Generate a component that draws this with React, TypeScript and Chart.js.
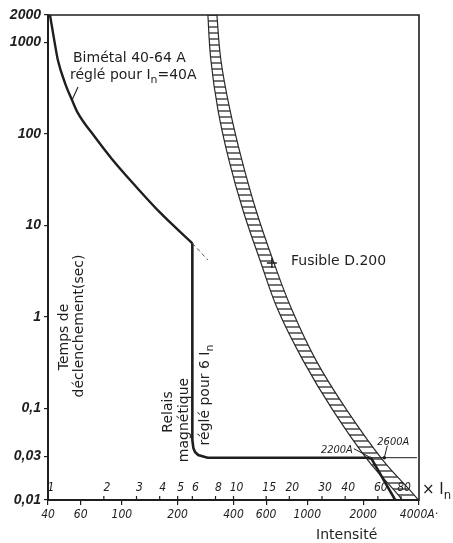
import React, { useEffect, useRef } from 'react';
import { Chart, registerables } from 'chart.js';

Chart.register(...registerables);

// ---------- data ----------
const RATED_CURRENT_A = 40;
const AMP_TICKS = [40, 60, 100, 200, 400, 600, 1000, 2000, 4000];
const AMP_LABELS = ['40', '60', '100', '200', '400', '600', '1000', '2000', '4000A·'];
const IN_MULTIPLES = [1, 2, 3, 4, 5, 6, 8, 10, 15, 20, 30, 40, 60, 80];
const TIME_TICKS = [2000, 1000, 100, 10, 1, 0.1, 0.03, 0.01];
const TIME_LABELS = ['2000', '1000', '100', '10', '1', '0,1', '0,03', '0,01'];

// bimetal thermal curve (A, s)
const BIMETAL_I = [41, 43.5, 45.2, 49.4, 53.9, 57.9, 71.6, 88.4, 110.8, 160, 240];
const BIMETAL_T = [2000, 986, 645, 361, 235, 170, 92.8, 53.5, 31.5, 14.0, 6.4];
// dashed continuation of the bimetal curve
const BIMETAL_EXT_I = [240, 291];
const BIMETAL_EXT_T = [6.4, 4.2];
// magnetic relay set at 6 In
const RELAY_I = [240, 240, 243, 248, 258, 290, 2200];
const RELAY_T = [6.4, 0.045, 0.037, 0.0335, 0.031, 0.029, 0.029];
// part where the fuse takes over
const FUSE_CUT_I = [2200, 3150];
const FUSE_CUT_T = [0.029, 0.0082];
const REF_LINE_I = [2200, 3900];
const REF_LINE_T = [0.029, 0.029];
// fuse D.200 band
const FUSE_T = [2268, 645, 183, 51.9, 14.7, 4.18, 1.19, 0.336, 0.0954, 0.0271, 0.0101, 0.00287];
const FUSE_MIN_I = [290, 302, 330, 378, 450, 556, 695, 948, 1375, 2124, 3240, 5065];
const FUSE_MAX_I = [324, 342, 383, 444, 529, 653, 827, 1114, 1636, 2558, 3952, 6256];
const FUSE_MARK_I = [644];
const FUSE_MARK_T = [3.9];
const POINT_2200_I = [2200];
const POINT_2600_I = [2600];
const POINT_T = [0.029];

const INK = '#1e1e1e';
const TXT_FONT = '"DejaVu Sans", "Noto Sans", sans-serif';
const NUM_FONT = '"Liberation Sans Narrow", "DejaVu Sans Condensed", "Liberation Sans", sans-serif';

const pts = (xs: number[], ys: number[]) => xs.map((x, i) => ({ x, y: ys[i] }));

function drawRich(ctx: CanvasRenderingContext2D, parts: { t: string; sub?: boolean }[], x: number, y: number, size: number, align: 'left' | 'center' = 'left') {
  const widths = parts.map((p) => {
    ctx.font = `${p.sub ? size * 0.78 : size}px ${TXT_FONT}`;
    return ctx.measureText(p.t).width;
  });
  const total = widths.reduce((a, b) => a + b, 0);
  let cx = align === 'center' ? x - total / 2 : x;
  ctx.textAlign = 'left';
  ctx.textBaseline = 'alphabetic';
  parts.forEach((p, i) => {
    ctx.font = `${p.sub ? size * 0.78 : size}px ${TXT_FONT}`;
    ctx.fillText(p.t, cx, y + (p.sub ? size * 0.3 : 0));
    cx += widths[i];
  });
}

export default function App() {
  const ref = useRef<HTMLCanvasElement>(null);

  useEffect(() => {
    const canvas = ref.current!;
    const pc = document.createElement('canvas');
    pc.width = 8;
    pc.height = 6;
    const pctx = pc.getContext('2d')!;
    pctx.strokeStyle = '#2a2a2a';
    pctx.lineWidth = 1.3;
    pctx.beginPath();
    pctx.moveTo(0, 3);
    pctx.lineTo(8, 3);
    pctx.stroke();
    const pattern = canvas.getContext('2d')!.createPattern(pc, 'repeat')!;

    const fusePolygon = [...pts(FUSE_MIN_I, FUSE_T), ...pts(FUSE_MAX_I, FUSE_T).reverse()];

    const annotate = {
      id: 'annotate',
      afterDraw(chart: any) {
        const ctx: CanvasRenderingContext2D = chart.ctx;
        const xs = chart.scales.x;
        const ys = chart.scales.y;
        const ca = chart.chartArea;
        ctx.save();
        ctx.strokeStyle = INK;
        ctx.fillStyle = INK;
        // frame top & right
        ctx.lineWidth = 1.6;
        ctx.beginPath();
        ctx.moveTo(ca.left, ca.top);
        ctx.lineTo(ca.right, ca.top);
        ctx.lineTo(ca.right, ca.bottom + 1);
        ctx.stroke();

        // multiples of In
        ctx.lineWidth = 1.2;
        ctx.font = `italic 12px ${NUM_FONT}`;
        ctx.textAlign = 'center';
        ctx.textBaseline = 'middle';
        IN_MULTIPLES.forEach((k) => {
          const px = xs.getPixelForValue(k * RATED_CURRENT_A);
          ctx.beginPath();
          ctx.moveTo(px, ca.bottom);
          ctx.lineTo(px, ca.bottom - 4);
          ctx.stroke();
          ctx.fillText(String(k), px + 3, ca.bottom - 12);
        });
        drawRich(ctx, [{ t: '× I' }, { t: 'n', sub: true }], ca.right + 3, ca.bottom - 6, 15);

        // axis titles
        ctx.font = `14px ${TXT_FONT}`;
        ctx.textAlign = 'center';
        ctx.textBaseline = 'alphabetic';
        ctx.fillText('Intensité', ca.left + (ca.right - ca.left) * 0.805, ca.bottom + 39);

        const rot = (text: string | { t: string; sub?: boolean }[], cx: number, cy: number, size: number) => {
          ctx.save();
          ctx.translate(cx, cy);
          ctx.rotate(-Math.PI / 2);
          if (typeof text === 'string') {
            ctx.font = `${size}px ${TXT_FONT}`;
            ctx.textAlign = 'center';
            ctx.textBaseline = 'middle';
            ctx.fillText(text, 0, 0);
          } else {
            drawRich(ctx, text, 0, size * 0.35, size, 'center');
          }
          ctx.restore();
        };
        rot('Temps de', ca.left + 16, ca.top + 322, 14);
        rot('déclenchement(sec)', ca.left + 31, ca.top + 311, 14);
        rot('Relais', ca.left + 120, ca.top + 397, 14);
        rot('magnétique', ca.left + 136, ca.top + 405, 14);
        rot([{ t: 'réglé pour 6 I' }, { t: 'n', sub: true }], ca.left + 156, ca.top + 380, 14);

        // bimetal label
        ctx.font = `14px ${TXT_FONT}`;
        ctx.textAlign = 'left';
        ctx.fillText('Bimétal 40-64 A', ca.left + 25, ca.top + 47);
        drawRich(ctx, [{ t: 'réglé pour I' }, { t: 'n', sub: true }, { t: '=40A' }], ca.left + 22, ca.top + 64, 14);
        const bx = xs.getPixelForValue(BIMETAL_I[4]);
        const by = ys.getPixelForValue(BIMETAL_T[4]);
        ctx.lineWidth = 1.1;
        ctx.beginPath();
        ctx.moveTo(bx, by);
        ctx.lineTo(bx + 6, by - 13);
        ctx.stroke();

        // fuse label + mark
        ctx.font = `14px ${TXT_FONT}`;
        ctx.fillText('Fusible D.200', ca.left + 243, ca.top + 250);
        const fx = xs.getPixelForValue(FUSE_MARK_I[0]);
        const fy = ys.getPixelForValue(FUSE_MARK_T[0]);
        ctx.lineWidth = 1.4;
        ctx.beginPath();
        ctx.moveTo(fx - 5, fy);
        ctx.lineTo(fx + 5, fy);
        ctx.moveTo(fx, fy - 5);
        ctx.lineTo(fx, fy + 5);
        ctx.stroke();

        // 2200A / 2600A
        const p1x = xs.getPixelForValue(POINT_2200_I[0]);
        const p1y = ys.getPixelForValue(POINT_T[0]);
        const p2x = xs.getPixelForValue(POINT_2600_I[0]);
        const p2y = ys.getPixelForValue(POINT_T[0]);
        ctx.lineWidth = 1;
        ctx.beginPath();
        ctx.moveTo(p1x - 17, p1y - 9);
        ctx.lineTo(p1x - 2, p1y - 1);
        ctx.moveTo(p2x + 3, p2y - 12);
        ctx.lineTo(p2x, p2y);
        ctx.stroke();
        ctx.beginPath();
        ctx.arc(p2x, p2y, 1.8, 0, Math.PI * 2);
        ctx.fill();
        ctx.font = `italic 11px ${NUM_FONT}`;
        ctx.textAlign = 'right';
        ctx.fillText('2200A', p1x - 18, p1y - 5);
        ctx.textAlign = 'left';
        ctx.fillText('2600A', p2x - 7, p2y - 13);
        ctx.restore();
      },
    };

    const chart = new Chart(canvas, {
      type: 'scatter',
      data: {
        datasets: [
          { data: pts(BIMETAL_I, BIMETAL_T), showLine: true, borderColor: INK, borderWidth: 2.4, pointRadius: 0, cubicInterpolationMode: 'monotone' },
          { data: pts(BIMETAL_EXT_I, BIMETAL_EXT_T), showLine: true, borderColor: '#555', borderWidth: 1, borderDash: [4, 3], pointRadius: 0 },
          { data: pts(RELAY_I, RELAY_T), showLine: true, borderColor: INK, borderWidth: 2.6, pointRadius: 0, tension: 0 },
          { data: pts(FUSE_CUT_I, FUSE_CUT_T), showLine: true, borderColor: INK, borderWidth: 2.6, pointRadius: 0 },
          { data: pts(REF_LINE_I, REF_LINE_T), showLine: true, borderColor: INK, borderWidth: 1, pointRadius: 0 },
          {
            data: fusePolygon,
            showLine: true,
            borderColor: '#2a2a2a',
            borderWidth: 1.2,
            backgroundColor: pattern,
            fill: 'shape',
            pointRadius: 0,
            tension: 0.4,
          } as any,
        ],
      },
      options: {
        responsive: false,
        animation: false,
        devicePixelRatio: 1,
        layout: { padding: { top: 15, right: 34, left: 0, bottom: 0 } },
        plugins: { legend: { display: false }, tooltip: { enabled: false } },
        scales: {
          x: {
            type: 'logarithmic',
            min: 40,
            max: 4000,
            afterBuildTicks: (s: any) => {
              s.ticks = AMP_TICKS.map((v) => ({ value: v }));
            },
            afterFit: (s: any) => {
              s.height = 43;
            },
            grid: { drawOnChartArea: false, drawTicks: true, tickLength: 5, color: INK, lineWidth: 1.2 },
            border: { color: INK, width: 2 },
            ticks: {
              autoSkip: false,
              maxRotation: 0,
              padding: 3,
              color: INK,
              font: { family: NUM_FONT, size: 12, style: 'italic' },
              callback: (v: any) => {
                const i = AMP_TICKS.indexOf(Number(v));
                return i >= 0 ? AMP_LABELS[i] : '';
              },
            },
          },
          y: {
            type: 'logarithmic',
            min: 0.01,
            max: 2000,
            afterBuildTicks: (s: any) => {
              s.ticks = TIME_TICKS.map((v) => ({ value: v }));
            },
            afterFit: (s: any) => {
              s.width = 48;
            },
            grid: { drawOnChartArea: false, drawTicks: true, tickLength: 4, color: INK, lineWidth: 1.2 },
            border: { color: INK, width: 2 },
            ticks: {
              autoSkip: false,
              padding: 3,
              color: INK,
              font: { family: '"Liberation Sans", sans-serif', size: 14, style: 'italic', weight: 'bold' },
              callback: (v: any) => {
                const i = TIME_TICKS.indexOf(Number(v));
                return i >= 0 ? TIME_LABELS[i] : '';
              },
            },
          },
        },
      },
      plugins: [annotate],
    } as any);

    return () => chart.destroy();
  }, []);

  return (
    <div style={{ position: 'fixed', left: 0, top: 0, width: 453, height: 543, background: '#fff' }}>
      <canvas ref={ref} width={453} height={543} style={{ width: 453, height: 543, display: 'block' }} />
    </div>
  );
}
